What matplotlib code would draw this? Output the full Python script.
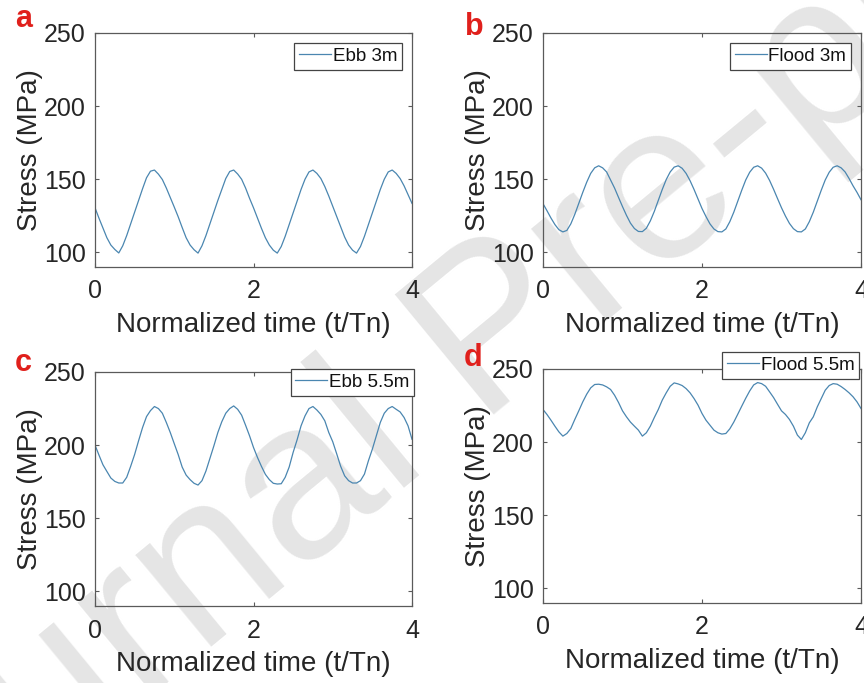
import numpy as np
import matplotlib.pyplot as plt

plt.rcParams['font.family'] = ['Liberation Sans', 'DejaVu Sans']

# normalized time, 0.05 steps over four periods
t_norm = np.linspace(0, 4, 81)

stress_ebb_3m = [
    130.5, 123.4, 116.7, 110.0, 105.0, 102.0, 99.6, 104.5, 111.5, 119.5,
    127.5, 135.5, 143.5, 151.0, 155.5, 156.3, 153.5, 149.8, 144.0, 137.5,
    131.0, 124.3, 117.0, 110.0, 105.0, 101.8, 99.5, 104.5, 111.5, 119.5,
    127.5, 135.5, 143.0, 150.5, 155.3, 156.3, 153.6, 150.0, 144.0, 137.0,
    130.5, 123.5, 116.5, 110.0, 105.0, 101.5, 99.5, 104.0, 111.0, 119.0,
    127.0, 135.0, 143.0, 150.0, 155.0, 156.3, 154.0, 150.5, 145.0, 138.5,
    131.5, 124.5, 117.5, 110.5, 105.0, 101.5, 99.5, 104.0, 111.0, 119.0,
    127.0, 135.0, 143.0, 150.0, 155.0, 156.3, 154.0, 150.5, 145.5, 139.5,
    133.5]

stress_flood_3m = [
    133.3, 128.5, 123.5, 119.0, 115.5, 114.0, 115.0, 119.5, 126.0, 133.5,
    141.0, 148.0, 154.0, 157.8, 159.2, 157.8, 155.0, 149.5, 144.0, 137.6,
    131.3, 125.3, 120.0, 116.3, 114.3, 114.2, 116.5, 121.5, 128.0, 135.5,
    143.0, 149.8, 155.0, 158.3, 159.2, 157.5, 154.0, 149.0, 143.0, 136.5,
    130.0, 124.5, 119.5, 116.0, 114.2, 114.0, 116.0, 121.0, 127.5, 135.0,
    142.5, 149.5, 154.8, 158.2, 159.2, 157.6, 154.2, 149.2, 143.2, 136.8,
    130.5, 124.8, 119.8, 116.2, 114.2, 114.0, 116.0, 121.0, 127.5, 135.0,
    142.5, 149.5, 154.8, 158.2, 159.2, 157.8, 155.0, 150.5, 145.5, 141.0,
    136.0]

stress_ebb_55m = [
    200.0, 193.2, 186.6, 182.0, 177.5, 175.2, 174.1, 174.1, 178.0, 185.5,
    193.6, 203.0, 212.0, 219.5, 223.6, 226.4, 225.0, 221.8, 215.5, 208.6,
    201.0, 193.5, 185.0, 179.5, 176.4, 173.9, 172.7, 175.7, 182.3, 190.9,
    199.5, 208.6, 216.0, 221.8, 225.0, 226.8, 224.5, 220.5, 213.6, 206.4,
    198.4, 191.6, 185.5, 180.0, 176.4, 173.9, 173.4, 173.6, 178.0, 185.0,
    195.0, 203.6, 213.2, 220.0, 225.0, 226.4, 224.0, 221.0, 216.6, 208.6,
    202.3, 194.0, 185.5, 179.0, 175.7, 174.1, 174.1, 175.7, 180.2, 189.3,
    197.3, 206.4, 215.5, 221.8, 225.0, 226.4, 224.5, 222.7, 218.9, 213.2,
    204.0]

stress_flood_55m = [
    222.3, 218.9, 215.0, 210.9, 207.0, 204.1, 205.9, 209.3, 215.5, 221.4,
    227.5, 232.8, 237.1, 239.4, 239.6, 239.1, 237.8, 236.0, 232.1, 227.1,
    221.4, 217.3, 213.7, 210.9, 208.2, 204.1, 206.4, 210.9, 216.8, 222.3,
    228.7, 233.7, 238.2, 240.5, 239.8, 238.7, 236.6, 233.7, 229.8, 225.3,
    219.6, 215.0, 211.6, 208.2, 206.4, 205.5, 205.9, 209.1, 213.7, 219.1,
    224.6, 230.0, 235.0, 239.1, 240.7, 240.0, 238.2, 234.4, 230.5, 225.9,
    221.4, 218.9, 215.5, 210.9, 204.8, 201.8, 206.4, 213.2, 217.3, 224.1,
    229.8, 235.5, 238.7, 240.0, 239.6, 238.0, 236.0, 233.7, 231.0, 227.5,
    223.0]

panel_tags = ['a', 'b', 'c', 'd']
series_names = ['Ebb 3m', 'Flood 3m', 'Ebb 5.5m', 'Flood 5.5m']
series_data = [stress_ebb_3m, stress_flood_3m, stress_ebb_55m, stress_flood_55m]

W, H = 864.0, 683.0
# axes boxes in pixels: left, top, right, bottom
ax_px = [(95, 33, 412, 267), (543, 33, 861, 267),
         (95, 372, 412, 606), (543, 369, 861, 603)]
# legend upper-right corners in pixels
leg_px = [(402, 43), (851, 43), (414, 369), (859, 352)]
# panel tag baselines in pixels
tag_px = [(15, 27), (465, 35), (15, 371), (464, 366)]

fig = plt.figure(figsize=(8.64, 6.83), dpi=100)
fig.patch.set_facecolor('white')

# diagonal watermark behind the panels
fig.text(0.574, 0.507, 'Journal Pre-proof', fontsize=162, color='#e5e5e5',
         rotation=39.5, rotation_mode='anchor', ha='center', va='center',
         zorder=-10)

line_col = '#4a86b0'
axis_col = '#5a5a5a'
text_col = '#262626'

for i in range(4):
    l, tp, r, b = ax_px[i]
    ax = fig.add_axes([l / W, 1 - b / H, (r - l) / W, (b - tp) / H])
    ax.patch.set_alpha(0)
    ax.plot(t_norm, series_data[i], color=line_col, lw=0.9, label=series_names[i])
    ax.set_xlim(0, 4)
    ax.set_ylim(90, 250)
    ax.set_xticks([0, 2, 4])
    ax.set_yticks([100, 150, 200, 250])
    for s in ax.spines.values():
        s.set_color(axis_col)
        s.set_linewidth(0.9)
    ax.tick_params(direction='in', length=3, width=0.8, color=axis_col,
                   labelcolor=text_col, labelsize=18, top=True, right=True)
    ax.tick_params(axis='x', pad=9)
    ax.tick_params(axis='y', pad=6.5)
    ax.set_xlabel('Normalized time (t/Tn)', fontsize=20, color=text_col, labelpad=6)
    ax.set_ylabel('Stress (MPa)', fontsize=20, color=text_col, labelpad=1)

    lx, ly = leg_px[i]
    leg = ax.legend(loc='upper right', bbox_to_anchor=(lx / W, 1 - ly / H),
                    bbox_transform=fig.transFigure, borderaxespad=0,
                    fontsize=13.5, handlelength=1.7, handletextpad=0.1,
                    borderpad=0.25, fancybox=False, framealpha=1)
    leg.get_frame().set_edgecolor('#444444')
    leg.get_frame().set_linewidth(0.9)
    for txt in leg.get_texts():
        txt.set_color('#111111')

    tx, ty = tag_px[i]
    fig.text(tx / W, 1 - ty / H, panel_tags[i], fontsize=22, fontweight='bold',
             color='#e0201c', ha='left', va='baseline')

fig.savefig('out.png', dpi=100)
